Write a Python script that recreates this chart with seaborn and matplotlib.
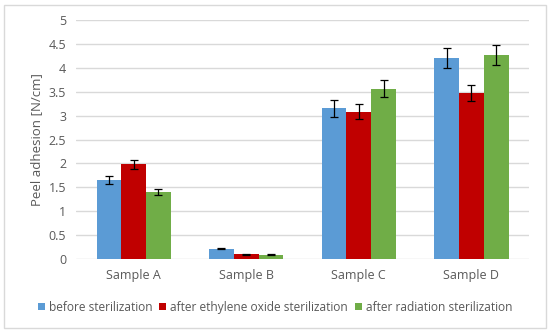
import pandas as pd
import matplotlib.pyplot as plt
import seaborn as sns
from matplotlib.patches import Rectangle
from matplotlib.ticker import FuncFormatter, MultipleLocator

samples = ["Sample A", "Sample B", "Sample C", "Sample D"]
conditions = ["before sterilization", "after ethylene oxide sterilization", "after radiation sterilization"]
before = [1.65, 0.22, 3.15, 4.20]
ethylene = [1.98, 0.10, 3.08, 3.47]
radiation = [1.40, 0.09, 3.56, 4.26]
before_err = [0.08, 0.01, 0.17, 0.21]
ethylene_err = [0.10, 0.01, 0.16, 0.17]
radiation_err = [0.07, 0.01, 0.18, 0.21]
colors = ["#5B9BD5", "#C00000", "#70AD47"]

rows = []
for cond, vals in zip(conditions, [before, ethylene, radiation]):
    for s, v in zip(samples, vals):
        rows.append({"sample": s, "condition": cond, "value": v})
data = pd.DataFrame(rows)

sns.set_style("white")
plt.rcParams["font.family"] = ["Open Sans", "DejaVu Sans"]
txt = "#595959"

fig = plt.figure(figsize=(5.5, 3.33), dpi=100)
ax = fig.add_axes([0.138, 0.222, 0.824, 0.718])
sns.barplot(data=data, x="sample", y="value", hue="condition", palette=colors,
            saturation=1, width=0.66, gap=0, errorbar=None, linewidth=0, ax=ax, zorder=3)

for cont, errs in zip(ax.containers, [before_err, ethylene_err, radiation_err]):
    for bar, e in zip(cont, errs):
        ax.errorbar(bar.get_x() + bar.get_width() / 2, bar.get_height(), yerr=e,
                    fmt="none", ecolor="black", elinewidth=0.9, capsize=3, capthick=0.9, zorder=4)

ax.set_ylim(0, 5)
ax.yaxis.set_major_locator(MultipleLocator(0.5))
ax.yaxis.set_major_formatter(FuncFormatter(lambda v, p: "%g" % v))
ax.grid(axis="y", color="#D9D9D9", linewidth=1, zorder=0)
for sp in ax.spines.values():
    sp.set_visible(False)
ax.tick_params(length=0, labelsize=9, colors=txt, pad=7)
ax.set_xlabel("")
ax.set_ylabel("Peel adhesion [N/cm]", fontsize=9.5, color=txt, labelpad=4)

handles, labels = ax.get_legend_handles_labels()
ax.legend_.remove()
fig.legend(handles, labels, loc="center", bbox_to_anchor=(0.5, 0.078), ncol=3,
           frameon=False, fontsize=8.6, labelcolor=txt, handlelength=0.6, handleheight=0.6,
           handletextpad=0.3, columnspacing=0.6)

fig.patches.append(Rectangle((0.008, 0.015), 0.984, 0.97, transform=fig.transFigure,
                             fill=False, edgecolor="#D9D9D9", linewidth=1))
fig.savefig("out.png", dpi=100)
